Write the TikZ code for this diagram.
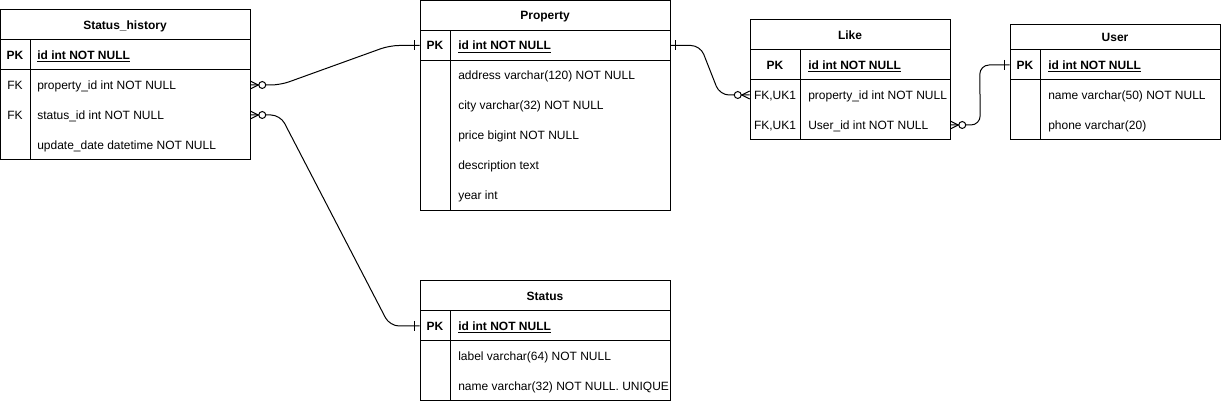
\documentclass[tikz,border=0pt]{standalone}
\usepackage{fontspec}
\setmainfont{Liberation Sans}
\usetikzlibrary{fit}
\newcommand\ermany[2]{%
  \draw[erline] ([yshift=3pt]#1) -- ([xshift=#2*6pt]#1) -- ([yshift=-3pt]#1);
  \draw[erline, fill=white] ([xshift=#2*9pt]#1) circle[radius=2.6pt];}
\newcommand\erone[2]{%
  \draw[erline] ([xshift=#2*3.75pt, yshift=3.75pt]#1) -- ([xshift=#2*3.75pt, yshift=-3.75pt]#1);}
\begin{document}
\begin{tikzpicture}[x=0.75pt,y=-0.75pt,
  font=\fontsize{9pt}{11pt}\selectfont,
  tbl/.style={draw, line width=0.75pt, inner sep=0pt},
  grid/.style={line width=0.75pt},
  rowbox/.style={inner sep=0pt},
  txt/.style={inner sep=0pt, text height=6.5pt, text depth=0pt},
  title/.style={txt, font=\fontsize{9pt}{11pt}\selectfont\bfseries},
  keyb/.style={txt, font=\fontsize{9pt}{11pt}\selectfont\bfseries},
  key/.style={txt},
  fld/.style={txt, anchor=west},
  fldb/.style={txt, anchor=west, font=\fontsize{9pt}{11pt}\selectfont\bfseries},
  link/.style={line width=0.75pt, rounded corners=7pt},
  erline/.style={line width=0.75pt}]
\fill[white] (0,0) rectangle (1222,402);
\useasboundingbox (0,0) rectangle (1222,402);

% ---------- Status_history
\node[tbl, fit={(0.5,10)(250,160)}] (sh) {};
\draw[grid] (0.5,40) -- (250,40) (0.5,70) -- (250,70) (30,40) -- (30,160);
\node[rowbox, fit={(0.5,40)(250,70)}] (sh-id) {};
\node[rowbox, fit={(0.5,70)(250,100)}] (sh-prop) {};
\node[rowbox, fit={(0.5,100)(250,130)}] (sh-stat) {};
\node[rowbox, fit={(0.5,130)(250,160)}] (sh-date) {};
\node[title] (sh-t) at (125,25) {Status\_history};
\node[keyb] (sh-k1) at (15,55) {PK};
\node[key] (sh-k2) at (15,85) {FK};
\node[key] (sh-k3) at (15,115) {FK};
\node[fldb] (sh-f1) at (37,55) {\underline{id int NOT NULL}};
\node[fld] (sh-f2) at (37,85) {property\_id int NOT NULL};
\node[fld] (sh-f3) at (37,115) {status\_id int NOT NULL};
\node[fld] (sh-f4) at (37,145) {update\_date datetime NOT NULL};

% ---------- Property
\node[tbl, fit={(420,0.5)(670,210.5)}] (prop) {};
\draw[grid] (420,30.5) -- (670,30.5) (420,60.5) -- (670,60.5) (450,30.5) -- (450,210.5);
\node[rowbox, fit={(420,30.5)(670,60.5)}] (prop-id) {};
\node[title] (prop-t) at (545,15.5) {Property};
\node[keyb] (prop-k1) at (435,45.5) {PK};
\node[fldb] (prop-f1) at (458,45.5) {\underline{id int NOT NULL}};
\node[fld] (prop-f2) at (458,75.5) {address varchar(120) NOT NULL};
\node[fld] (prop-f3) at (458,105.5) {city varchar(32) NOT NULL};
\node[fld] (prop-f4) at (458,135.5) {price bigint NOT NULL};
\node[fld] (prop-f5) at (458,165.5) {description text};
\node[fld] (prop-f6) at (458,195.5) {year int};

% ---------- Like
\node[tbl, fit={(750,20)(950,140)}] (lk) {};
\draw[grid] (750,50) -- (950,50) (750,80) -- (950,80) (800,50) -- (800,140);
\node[rowbox, fit={(750,50)(950,80)}] (lk-id) {};
\node[rowbox, fit={(750,80)(950,110)}] (lk-prop) {};
\node[rowbox, fit={(750,110)(950,140)}] (lk-user) {};
\node[title] (lk-t) at (850,35) {Like};
\node[keyb] (lk-k1) at (775,65) {PK};
\node[key] (lk-k2) at (775,95) {FK,UK1};
\node[key] (lk-k3) at (775,125) {FK,UK1};
\node[fldb] (lk-f1) at (808,65) {\underline{id int NOT NULL}};
\node[fld] (lk-f2) at (808,95) {property\_id int NOT NULL};
\node[fld] (lk-f3) at (808,125) {User\_id int NOT NULL};

% ---------- User
\node[tbl, fit={(1010,25)(1220,140)}] (us) {};
\draw[grid] (1010,50) -- (1220,50) (1010,80) -- (1220,80) (1040,50) -- (1040,140);
\node[rowbox, fit={(1010,50)(1220,80)}] (us-id) {};
\node[title] (us-t) at (1115,37.5) {User};
\node[keyb] (us-k1) at (1025,65) {PK};
\node[fldb] (us-f1) at (1048,65) {\underline{id int NOT NULL}};
\node[fld] (us-f2) at (1048,95) {name varchar(50) NOT NULL};
\node[fld] (us-f3) at (1048,125) {phone varchar(20)};

% ---------- Status
\node[tbl, fit={(420,281)(670,400.5)}] (st) {};
\draw[grid] (420,311) -- (670,311) (420,341) -- (670,341) (450,311) -- (450,400.5);
\node[rowbox, fit={(420,311)(670,341)}] (st-id) {};
\node[title] (st-t) at (545,296) {Status};
\node[keyb] (st-k1) at (435,326) {PK};
\node[fldb] (st-f1) at (458,326) {\underline{id int NOT NULL}};
\node[fld] (st-f2) at (458,356) {label varchar(64) NOT NULL};
\node[fld] (st-f3) at (458,386) {name varchar(32) NOT NULL. UNIQUE};

% ---------- connectors
\draw[link] (sh-prop.east) -- ++(30,0) -- ([xshift=-22.5pt]prop-id.west) -- (prop-id.west);
\draw[link] (sh-stat.east) -- ++(30,0) -- ([xshift=-22.5pt]st-id.west) -- (st-id.west);
\draw[link] (prop-id.east) -- ++(30,0) -- ([xshift=-22.5pt]lk-prop.west) -- (lk-prop.west);
\draw[link] (lk-user.east) -- ++(30,0) -- ([xshift=-22.5pt]us-id.west) -- (us-id.west);

\ermany{sh-prop.east}{1}
\erone{prop-id.west}{-1}
\ermany{sh-stat.east}{1}
\erone{st-id.west}{-1}
\erone{prop-id.east}{1}
\ermany{lk-prop.west}{-1}
\ermany{lk-user.east}{1}
\erone{us-id.west}{-1}
\end{tikzpicture}
\end{document}
